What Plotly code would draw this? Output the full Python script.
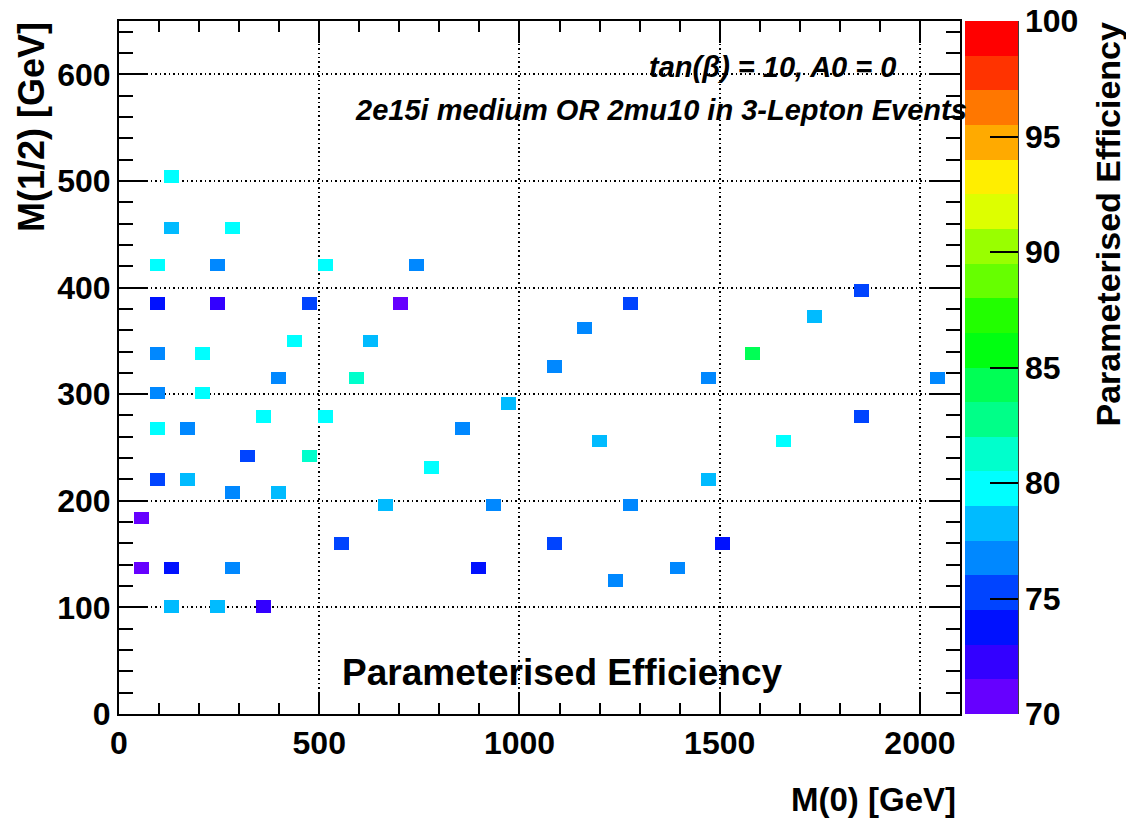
import plotly.graph_objects as go

# ---------------- data ----------------
m0 = [132, 132, 283, 95, 245, 515, 742, 95, 245, 475, 702, 437, 627, 95, 208,
      398, 592, 95, 208, 973, 361, 515, 95, 172, 857, 322, 475, 780, 95, 172,
      283, 398, 665, 935, 55, 555, 55, 132, 283, 897, 132, 245, 361,
      1583, 1087, 1472, 2043, 1853, 1200, 1660, 1472, 1278, 1087, 1508, 1395,
      1240, 1278, 1162, 1737, 1853]
m12 = [504, 456, 456, 421, 421, 421, 421, 385, 385, 385, 385, 350, 350, 338, 338,
       315, 315, 301, 301, 291, 279, 279, 268, 268, 268, 242, 242, 231, 220, 220,
       208, 208, 196, 196, 184, 160, 137, 137, 137, 137, 101, 101, 101,
       338, 326, 315, 315, 279, 256, 256, 220, 196, 160, 160, 137,
       125, 385, 362, 373, 397]
eff = [79.8, 78.2, 79.8, 79.8, 76.8, 79.8, 76.8, 73.8, 72.2, 75.2, 70.8, 79.8, 78.2, 76.8, 79.8,
       76.8, 81.2, 76.8, 79.8, 78.2, 79.8, 79.8, 79.8, 76.8, 76.8, 75.2, 81.2, 79.8, 75.2, 78.2,
       76.8, 78.2, 78.2, 76.8, 70.8, 75.2, 70.8, 73.8, 76.8, 73.8, 78.2, 78.2, 72.2,
       84.3, 76.8, 76.8, 76.8, 75.2, 78.2, 79.8, 78.2, 76.8, 75.2, 73.8, 76.8,
       76.8, 75.2, 76.8, 78.2, 75.2]

colorbar_ticks = [70, 75, 80, 85, 90, 95, 100]
band_colors = ["#6600FF", "#3300FF", "#0011FF", "#0044FF", "#0088FF",
               "#00BBFF", "#00FFFF", "#00FFCC", "#00FF88", "#00FF55",
               "#00FF11", "#22FF00", "#66FF00", "#99FF00", "#DDFF00",
               "#FFEE00", "#FFAA00", "#FF7700", "#FF3300", "#FF0000"]

# ---------------- styling ----------------
FONT = "Liberation Sans, Arial, Helvetica, sans-serif"
L, R, T, B = 119, 960, 21, 714
W, H = 1126, 820
BIN_W, BIN_H = 37.5, 11.8


def px(x):
    return (x - L) / (R - L)


def py(y):
    return (B - y) / (B - T)


n = len(band_colors)
colorscale = []
for i, c in enumerate(band_colors):
    colorscale.append([i / n, c])
    colorscale.append([(i + 1) / n, c])

fig = go.Figure(go.Bar(
    x=m0,
    y=[BIN_H] * len(m0),
    base=[v - BIN_H / 2 for v in m12],
    width=BIN_W,
    marker=dict(
        color=eff, colorscale=colorscale, cmin=70, cmax=100,
        line=dict(width=0),
        colorbar=dict(
            x=px(965), xanchor="left", xpad=0, ypad=0,
            y=0.5, yanchor="middle", len=1, lenmode="fraction",
            thickness=53, thicknessmode="pixels",
            outlinewidth=0,
            tickvals=colorbar_ticks, ticks="inside", ticklen=28,
            tickwidth=1.5, tickcolor="black",
            tickfont=dict(family=FONT, size=32, color="black", weight="bold"),
        ),
    ),
    showlegend=False,
    hoverinfo="x+y",
))

axis_common = dict(
    ticks="inside", tickcolor="black", tickwidth=1.5,
    showline=True, linecolor="black", linewidth=2, mirror="ticks",
    showgrid=True, gridcolor="black", griddash="1.5px,3px", gridwidth=1.5,
    zeroline=False,
    tickfont=dict(family=FONT, size=32, color="black", weight="bold"),
)

fig.update_xaxes(range=[0, 2100], tick0=0, dtick=500, ticklen=22,
                 minor=dict(dtick=100, ticks="inside", ticklen=11, tickwidth=1.5,
                            tickcolor="black", showgrid=False),
                 **axis_common)
fig.update_yaxes(range=[0, 650], tick0=0, dtick=100, ticklen=29,
                 minor=dict(dtick=20, ticks="inside", ticklen=14, tickwidth=1.5,
                            tickcolor="black", showgrid=False),
                 **axis_common)

annotations = [
    dict(text="tan(β) = 10, A0 = 0", x=px(898), y=py(67), xanchor="right", yanchor="middle",
         font=dict(family=FONT, size=29, color="black", weight="bold", style="italic")),
    dict(text="2e15i medium OR 2mu10 in 3-Lepton Events", x=px(969), y=py(110),
         xanchor="right", yanchor="middle",
         font=dict(family=FONT, size=29, color="black", weight="bold", style="italic")),
    dict(text="Parameterised Efficiency", x=px(562), y=py(672), xanchor="center", yanchor="middle",
         font=dict(family=FONT, size=37, color="black", weight="bold")),
    dict(text="M(0) [GeV]", x=px(958), y=py(799), xanchor="right", yanchor="middle",
         font=dict(family=FONT, size=33, color="black", weight="bold")),
    dict(text="M(1/2) [GeV]", x=px(31), y=py(20), xanchor="center", yanchor="top",
         textangle=-90,
         font=dict(family=FONT, size=36, color="black", weight="bold")),
    dict(text="Parameterised Efficiency", x=px(1107), y=py(20), xanchor="center", yanchor="top",
         textangle=-90,
         font=dict(family=FONT, size=34, color="black", weight="bold")),
]
for a in annotations:
    a.update(xref="paper", yref="paper", showarrow=False)

fig.update_layout(
    width=W, height=H,
    margin=dict(l=L, r=W - R, t=T, b=H - B),
    plot_bgcolor="white", paper_bgcolor="white",
    barmode="overlay", bargap=0,
    font=dict(family=FONT, color="black"),
    annotations=annotations,
    shapes=[dict(type="line", xref="paper", yref="paper", x0=px(1018), x1=px(1018),
                 y0=0, y1=1, line=dict(color="black", width=1.5))],
)

fig.write_html("out.html")
